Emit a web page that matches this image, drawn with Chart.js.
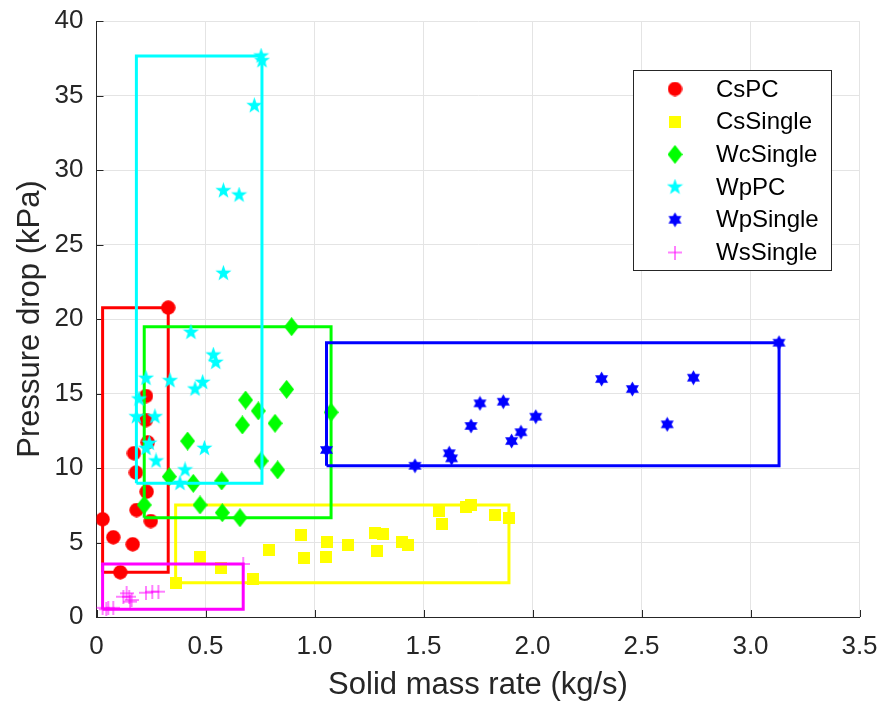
<!DOCTYPE html>
<html>
<head>
<meta charset="utf-8">
<title>Pressure drop vs solid mass rate</title>
<script src="https://cdn.jsdelivr.net/npm/chart.js@4/dist/chart.umd.min.js"></script>
<style>
  html, body { margin: 0; padding: 0; background: #fff; }
</style>
</head>
<body>
<canvas id="chart" width="882" height="704"></canvas>
<script>
const FONT = '"Liberation Sans", Arial, Helvetica, sans-serif';
const AXIS_COLOR = '#262626';

const seriesNames = ['CsPC', 'CsSingle', 'WcSingle', 'WpPC', 'WpSingle', 'WsSingle'];
const seriesColors = ['#ff0000', '#ffff00', '#00ff00', '#00ffff', '#0000ff', '#ff00ff'];
const seriesShapes = ['circle', 'square', 'diamond', 'pentagram', 'hexagram', 'plus'];

// solid mass rate (kg/s) / pressure drop (kPa)
const csPcX = [0.329, 0.227, 0.227, 0.235, 0.172, 0.181, 0.230, 0.184, 0.249, 0.028, 0.077, 0.166, 0.109];
const csPcY = [20.76, 14.83, 13.22, 11.72, 10.99, 9.69, 8.41, 7.18, 6.44, 6.56, 5.35, 4.88, 3.00];

const csSingleX = [0.363, 0.475, 0.571, 0.716, 0.790, 0.938, 0.952, 1.056, 1.051, 1.152, 1.278, 1.316, 1.285, 1.400, 1.427, 1.573, 1.585, 1.695, 1.718, 1.828, 1.892];
const csSingleY = [2.30, 4.05, 3.27, 2.53, 4.48, 5.48, 3.94, 5.01, 4.01, 4.83, 5.61, 5.55, 4.43, 5.01, 4.83, 7.14, 6.24, 7.36, 7.52, 6.85, 6.67];

const wcSingleX = [0.895, 0.872, 0.684, 0.742, 1.076, 0.669, 0.819, 0.418, 0.755, 0.831, 0.334, 0.444, 0.574, 0.219, 0.475, 0.577, 0.658];
const wcSingleY = [19.48, 15.28, 14.56, 13.83, 13.74, 12.89, 13.00, 11.81, 10.47, 9.87, 9.42, 8.97, 9.13, 7.52, 7.52, 7.00, 6.66];

const wpPcX = [0.755, 0.759, 0.724, 0.582, 0.654, 0.582, 0.433, 0.536, 0.547, 0.227, 0.337, 0.487, 0.452, 0.195, 0.183, 0.268, 0.242, 0.227, 0.495, 0.273, 0.406, 0.383];
const wpPcY = [37.65, 37.34, 34.32, 28.61, 28.32, 23.07, 19.11, 17.58, 17.09, 16.02, 15.86, 15.75, 15.30, 14.63, 13.44, 13.44, 11.66, 11.32, 11.32, 10.47, 9.87, 8.97];

const wpSingleX = [3.131, 1.055, 1.461, 1.618, 1.629, 1.718, 1.759, 1.866, 1.904, 1.947, 2.015, 2.317, 2.458, 2.618, 2.738];
const wpSingleY = [18.41, 11.21, 10.15, 10.99, 10.65, 12.82, 14.34, 14.45, 11.81, 12.40, 13.44, 15.97, 15.30, 12.93, 16.06];

const wsSingleX = [0.673, 0.256, 0.284, 0.227, 0.138, 0.150, 0.123, 0.161, 0.154, 0.028, 0.045, 0.054, 0.077];
const wsSingleY = [3.56, 1.70, 1.70, 1.63, 1.59, 1.36, 1.36, 1.14, 1.03, 0.62, 0.52, 0.58, 0.62];

const seriesX = [csPcX, csSingleX, wcSingleX, wpPcX, wpSingleX, wsSingleX];
const seriesY = [csPcY, csSingleY, wcSingleY, wpPcY, wpSingleY, wsSingleY];

const xTickValues = [0, 0.5, 1, 1.5, 2, 2.5, 3, 3.5];
const yTickValues = [0, 5, 10, 15, 20, 25, 30, 35, 40];

// marker sprites, used as pointStyle
function makeMarker(shape, color) {
  const c = document.createElement('canvas');
  const sizes = { circle: [15, 15], square: [12, 12], diamond: [15, 19], pentagram: [17, 17], hexagram: [15, 16], plus: [14, 14] };
  const [w, h] = sizes[shape];
  c.width = w; c.height = h;
  const g = c.getContext('2d');
  const cx = w / 2, cy = h / 2;
  g.fillStyle = color;
  g.strokeStyle = color;
  g.beginPath();
  if (shape === 'circle') {
    g.arc(cx, cy, w / 2 - 0.3, 0, Math.PI * 2);
    g.fill();
  } else if (shape === 'square') {
    g.fillRect(0, 0, w, h);
  } else if (shape === 'diamond') {
    g.moveTo(cx, 0); g.lineTo(w, cy); g.lineTo(cx, h); g.lineTo(0, cy);
    g.closePath(); g.fill();
  } else if (shape === 'pentagram' || shape === 'hexagram') {
    const n = shape === 'pentagram' ? 5 : 6;
    const R = Math.min(w, h) / 2;
    const r = shape === 'pentagram' ? R * 0.40 : R / Math.sqrt(3);
    for (let i = 0; i < n * 2; i++) {
      const a = -Math.PI / 2 + i * Math.PI / n;
      const rad = i % 2 === 0 ? R : r;
      const px = cx + rad * Math.cos(a), py = cy + rad * Math.sin(a);
      if (i === 0) g.moveTo(px, py); else g.lineTo(px, py);
    }
    g.closePath(); g.fill();
  } else if (shape === 'plus') {
    g.lineWidth = 1;
    g.moveTo(0, cy); g.lineTo(w, cy);
    g.moveTo(cx, 0); g.lineTo(cx, h);
    g.stroke();
  }
  return c;
}

const markers = seriesShapes.map((s, i) => makeMarker(s, seriesColors[i]));

const datasets = [];
seriesNames.forEach((name, i) => {
  const xs = seriesX[i], ys = seriesY[i];
  const pts = xs.map((x, k) => ({ x: x, y: ys[k] }));
  datasets.push({
    type: 'scatter',
    label: name,
    data: pts,
    pointStyle: markers[i],
    pointRadius: 7,
    order: -2 * i
  });
  // bounding rectangle around each group
  const x0 = Math.min(...xs), x1 = Math.max(...xs);
  const y0 = Math.min(...ys), y1 = Math.max(...ys);
  datasets.push({
    type: 'line',
    label: name + ' box',
    data: [{ x: x0, y: y0 }, { x: x1, y: y0 }, { x: x1, y: y1 }, { x: x0, y: y1 }, { x: x0, y: y0 }],
    borderColor: seriesColors[i],
    borderWidth: 3,
    pointRadius: 0,
    fill: false,
    tension: 0,
    order: -2 * i - 1
  });
});

// short inward tick marks along both axes
const innerTicks = {
  id: 'innerTicks',
  beforeDatasetsDraw(chart) {
    const { ctx, chartArea: a, scales } = chart;
    ctx.save();
    ctx.strokeStyle = AXIS_COLOR;
    ctx.lineWidth = 1;
    ctx.beginPath();
    xTickValues.forEach(v => {
      const px = Math.round(scales.x.getPixelForValue(v)) + 0.5;
      ctx.moveTo(px, a.bottom); ctx.lineTo(px, a.bottom - 7);
    });
    yTickValues.forEach(v => {
      const py = Math.round(scales.y.getPixelForValue(v)) + 0.5;
      ctx.moveTo(a.left, py); ctx.lineTo(a.left + 7, py);
    });
    ctx.stroke();
    ctx.restore();
  }
};

const boxLegend = {
  id: 'boxLegend',
  afterDraw(chart) {
    const ctx = chart.ctx;
    const left = 633.5, top = 70.5, w = 198, h = 200;
    ctx.save();
    ctx.fillStyle = '#ffffff';
    ctx.fillRect(left, top, w, h);
    ctx.strokeStyle = AXIS_COLOR;
    ctx.lineWidth = 1;
    ctx.strokeRect(left, top, w, h);
    ctx.font = '24px ' + FONT;
    ctx.textBaseline = 'middle';
    ctx.textAlign = 'left';
    ctx.fillStyle = '#000000';
    seriesNames.forEach((name, i) => {
      const cy = 89 + i * 32.7;
      const m = markers[i];
      ctx.drawImage(m, 675 - m.width / 2, cy - m.height / 2);
      ctx.fillText(name, 716, cy + 1);
    });
    ctx.restore();
  }
};

new Chart(document.getElementById('chart'), {
  type: 'scatter',
  data: { datasets: datasets },
  options: {
    responsive: false,
    animation: false,
    layout: { padding: { top: 21, right: 22.5, left: 0, bottom: 0 } },
    plugins: {
      legend: { display: false },
      tooltip: { enabled: false }
    },
    scales: {
      x: {
        type: 'linear',
        min: 0,
        max: 3.5,
        afterBuildTicks: s => { s.ticks = xTickValues.map(v => ({ value: v })); },
        afterFit: s => {
          s.height = 87;
          // end labels may hang over; don't let them shrink the plot
          s.paddingLeft = 0;
          s.paddingRight = 0;
        },
        grid: { color: '#e4e4e4', drawTicks: false },
        border: { color: AXIS_COLOR, width: 1 },
        ticks: { padding: 14, color: AXIS_COLOR, font: { family: FONT, size: 26 } },
        title: {
          display: true,
          text: 'Solid mass rate (kg/s)',
          color: AXIS_COLOR,
          font: { family: FONT, size: 31 },
          padding: { top: 0, bottom: 0 }
        }
      },
      y: {
        type: 'linear',
        min: 0,
        max: 40,
        afterBuildTicks: s => { s.ticks = yTickValues.map(v => ({ value: v })); },
        afterFit: s => {
          s.width = 96.5;
          s.paddingTop = 0;
          s.paddingBottom = 0;
        },
        grid: { color: '#e4e4e4', drawTicks: false },
        border: { color: AXIS_COLOR, width: 1 },
        ticks: { padding: 13, color: AXIS_COLOR, font: { family: FONT, size: 26 } },
        title: {
          display: true,
          text: 'Pressure drop (kPa)',
          color: AXIS_COLOR,
          font: { family: FONT, size: 31 },
          padding: { top: 12, bottom: 0 }
        }
      }
    }
  },
  plugins: [innerTicks, boxLegend]
});
</script>
</body>
</html>
